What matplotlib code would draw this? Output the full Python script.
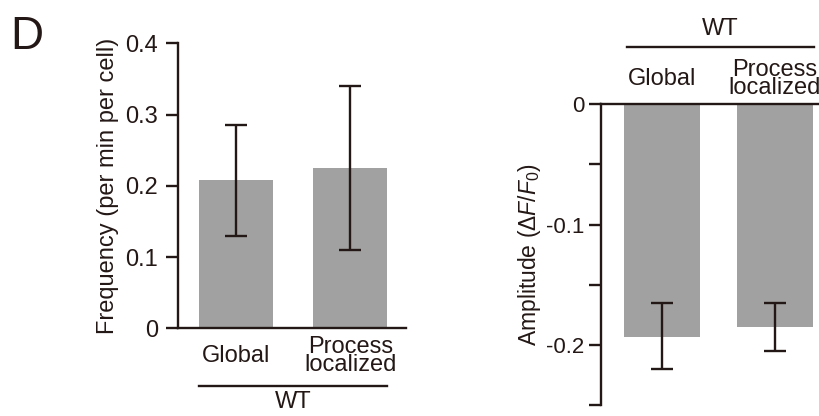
import numpy as np
import matplotlib
matplotlib.use('Agg')
import matplotlib.pyplot as plt

plt.rcParams['font.family'] = ['Liberation Sans', 'DejaVu Sans']
plt.rcParams['mathtext.fontset'] = 'custom'
plt.rcParams['mathtext.rm'] = 'Liberation Sans'
plt.rcParams['mathtext.it'] = 'Liberation Sans:italic'

# data
groups = ['Global', 'Process\nlocalized']
freq_mean = [0.208, 0.225]
freq_lo = [0.130, 0.110]
freq_hi = [0.285, 0.340]
amp_mean = [-0.193, -0.185]
amp_lo = [-0.220, -0.205]
amp_hi = [-0.165, -0.165]
group_name = 'WT'

bar_col = '#a0a1a0'
ink = '#231815'
lw = 1.7
fs = 17

fig = plt.figure(figsize=(8.2, 4.16), dpi=100)
fig.text(0.012, 0.965, 'D', fontsize=33, color=ink, va='top', ha='left')

x = np.arange(len(groups))

# frequency panel
ax1 = fig.add_axes([0.2167, 0.2108, 0.2784, 0.685])
ax1.bar(x, freq_mean, width=0.647, color=bar_col, zorder=1)
err1 = [np.array(freq_mean) - np.array(freq_lo), np.array(freq_hi) - np.array(freq_mean)]
ax1.errorbar(x, freq_mean, yerr=err1, fmt='none', ecolor=ink, elinewidth=lw,
             capsize=8, capthick=lw, zorder=2)
ax1.set_xlim(-0.51, 1.487)
ax1.set_ylim(0, 0.4)
ax1.set_yticks([0, 0.1, 0.2, 0.3, 0.4])
ax1.set_yticklabels(['0', '0.1', '0.2', '0.3', '0.4'])
ax1.set_xticks([])
for s in ['top', 'right']:
    ax1.spines[s].set_visible(False)
for s in ['left', 'bottom']:
    ax1.spines[s].set_linewidth(lw)
    ax1.spines[s].set_color(ink)
ax1.tick_params(axis='y', length=9, width=lw, color=ink, pad=5, labelsize=fs, labelcolor=ink)
ax1.set_ylabel('Frequency (per min per cell)', fontsize=fs, color=ink, labelpad=5)
for xi, g in zip(x, groups):
    ax1.text(xi, -0.039, g, ha='center', va='center', fontsize=fs, color=ink,
             linespacing=0.8, clip_on=False)
ax1.plot([x[0] - 0.323, x[1] + 0.323], [-0.081, -0.081], color=ink, lw=lw, clip_on=False)
ax1.text(np.mean(x), -0.104, group_name, ha='center', va='center', fontsize=fs, color=ink)

# amplitude panel
ax2 = fig.add_axes([0.733, 0.0257, 0.267, 0.7236])
ax2.bar(x, amp_mean, width=0.668, color=bar_col, zorder=1)
err2 = [np.array(amp_mean) - np.array(amp_lo), np.array(amp_hi) - np.array(amp_mean)]
ax2.errorbar(x, amp_mean, yerr=err2, fmt='none', ecolor=ink, elinewidth=lw,
             capsize=8, capthick=lw, zorder=2)
ax2.set_xlim(-0.537, 1.40)
ax2.set_ylim(-0.25, 0)
ax2.set_yticks([0, -0.1, -0.2])
ax2.set_yticklabels(['0', '-0.1', '-0.2'])
ax2.set_yticks([-0.05, -0.15, -0.25], minor=True)
ax2.set_xticks([])
for s in ['bottom', 'right']:
    ax2.spines[s].set_visible(False)
for s in ['left', 'top']:
    ax2.spines[s].set_linewidth(lw)
    ax2.spines[s].set_color(ink)
ax2.tick_params(axis='y', which='both', length=9, width=lw, color=ink, pad=3,
                labelsize=16, labelcolor=ink)
ax2.set_ylabel(r'Amplitude ($\Delta\mathit{F}/\mathit{F}_0$)', fontsize=16.5, color=ink, labelpad=2.5)
for xi, g in zip(x, groups):
    ax2.text(xi, 0.021, g, ha='center', va='center', fontsize=fs, color=ink,
             linespacing=0.8, clip_on=False)
ax2.plot([x[0] - 0.31, x[1] + 0.35], [0.0473, 0.0473], color=ink, lw=lw, clip_on=False)
ax2.text(np.mean(x) + 0.02, 0.0629, group_name, ha='center', va='center', fontsize=fs, color=ink)

fig.savefig('out.png', dpi=100)
